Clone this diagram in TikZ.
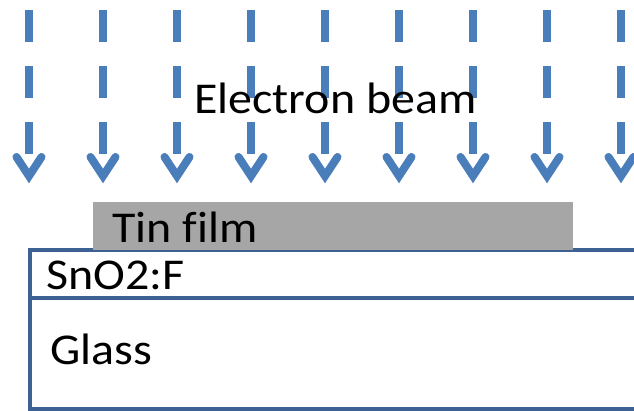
\documentclass[tikz,border=0pt]{standalone}
\usepackage{fontspec}
\setmainfont[Ligatures=NoCommon]{Carlito}
\definecolor{beamblue}{HTML}{4A7EBB}
\definecolor{layerblue}{HTML}{3C6192}
\definecolor{tingray}{HTML}{A6A6A6}
\newcommand{\wide}[1]{\scalebox{1.09}[1]{#1}}
\begin{document}
\begin{tikzpicture}[x=1pt,y=-1pt,
  lbl/.style={anchor=base west,inner sep=0pt,font=\fontsize{44}{50}\selectfont},
  shaft/.style={draw=beamblue,line width=8pt,dash pattern=on 32pt off 24pt},
  head/.style={draw=beamblue,line width=8pt,line cap=round,line join=miter},
  layer/.style={draw=layerblue,line width=4pt}]
\useasboundingbox (0,0) rectangle (634,410);
\clip (0,0) rectangle (634,410);
\foreach \x in {29,103,...,621}{
  \draw[shaft] (\x,10) -- (\x,154);
  \draw[head] (\x-12.5,157) -- (\x,176) -- (\x+12.5,157);
}
\node[lbl] (beam) at (194,113) {\wide{Electron beam}};
% substrate layers
\draw[layer] (640,250) -- (29.5,250) -- (29.5,408.5) -- (640,408.5);
\draw[layer] (29.5,298) -- (640,298);
\fill[tingray] (93,202) rectangle (573,250);
\node[lbl] (tin) at (112,242) {\wide{Tin film}};
\node[lbl] (fto) at (46,289) {\wide{SnO2:F}};
\node[lbl] (glass) at (50,364) {\wide{Glass}};
\end{tikzpicture}
\end{document}
